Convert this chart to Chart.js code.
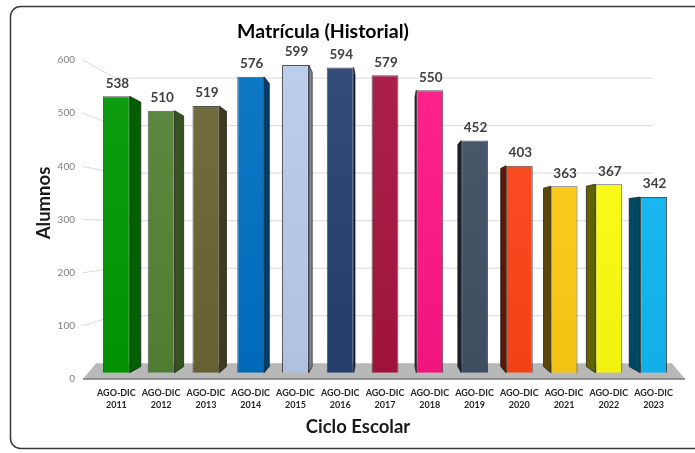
<!DOCTYPE html>
<html lang="es">
<head>
<meta charset="utf-8">
<title>Matrícula (Historial)</title>
<script src="https://cdn.jsdelivr.net/npm/chart.js@4.4.1/dist/chart.umd.min.js"></script>
<style>
  html, body { margin: 0; padding: 0; background: #fff; }
  #grafica { display: block; }
</style>
</head>
<body>
<canvas id="grafica" width="695" height="453"></canvas>
<script>
// datos
const ciclos = ['2011', '2012', '2013', '2014', '2015', '2016', '2017', '2018', '2019', '2020', '2021', '2022', '2023'];
const alumnos = [538, 510, 519, 576, 599, 594, 579, 550, 452, 403, 363, 367, 342];
const coloresFrente = ['#009800', '#548235', '#6a6434', '#0070c2', '#b8cbea', '#263f70', '#a5143f', '#ff1585', '#405064', '#ff4418', '#ffcc14', '#ffff10', '#10b8f4'];
const coloresLado = ['#005f00', '#36521f', '#403b1c', '#003e70', '#7d8aa0', '#141f3a', '#6a0a26', '#8a0048', '#1a212b', '#5e1600', '#5c4606', '#626200', '#004862'];
const marcasY = [0, 100, 200, 300, 400, 500, 600];

const etiquetas = ciclos.map(a => ['AGO-DIC', a]);
const FUENTE = 'Lato, "Open Sans", sans-serif';

// aclara (f>0) u oscurece (f<0) un color
function tono(hex, f) {
  const n = parseInt(hex.slice(1), 16);
  const m = c => f >= 0 ? Math.round(c + (255 - c) * f) : Math.round(c * (1 + f));
  return 'rgb(' + m(n >> 16) + ',' + m((n >> 8) & 255) + ',' + m(n & 255) + ')';
}

function degradado(c) {
  const col = coloresFrente[c.dataIndex];
  const area = c.chart.chartArea;
  if (!area) return col;
  const g = c.chart.ctx.createLinearGradient(0, area.top, 0, area.bottom);
  g.addColorStop(0, tono(col, 0.06));
  g.addColorStop(1, tono(col, -0.05));
  return g;
}

// efecto 3D: paredes, piso y caras laterales
const tresD = {
  id: 'tresD',
  beforeDatasetsDraw(chart) {
    const { ctx, chartArea: a, scales } = chart;
    const eje = scales.yEje;
    const vx = (a.left + a.right) / 2;
    const vy = a.top + 0.535 * (a.bottom - a.top);
    const S = 0.894;
    const fx0 = a.left - 11, fx1 = a.right + 9;
    const pared = (x, y) => [vx + (x - vx) * S, vy + (y - vy) * S];

    ctx.save();
    // lineas de division
    ctx.lineWidth = 1;
    ctx.strokeStyle = '#d9d9d9';
    marcasY.forEach(v => {
      if (v === 0) return;
      const yf = eje.getPixelForValue(v);
      const [bx0, by] = pared(fx0, yf);
      const [bx1] = pared(fx1, yf);
      ctx.beginPath();
      ctx.moveTo(fx0, yf);
      ctx.lineTo(bx0, by);
      ctx.lineTo(bx1, by);
      ctx.stroke();
    });

    // piso
    const yf0 = eje.getPixelForValue(0);
    const yb0 = pared(fx0, yf0)[1];
    ctx.fillStyle = '#b8b8b8';
    ctx.beginPath();
    ctx.moveTo(fx0, yf0);
    ctx.lineTo(fx1, yf0);
    ctx.lineTo(fx1 - 13, yb0);
    ctx.lineTo(a.left + 2, yb0);
    ctx.closePath();
    ctx.fill();
    ctx.strokeStyle = '#7a7a7a';
    ctx.lineWidth = 1.5;
    ctx.beginPath();
    ctx.moveTo(fx0, yf0);
    ctx.lineTo(fx1, yf0);
    ctx.stroke();

    // caras laterales
    const K = 0.043;
    const atras = (x, y) => [x + (vx - x) * K, y + (vy - y) * K];
    chart.getDatasetMeta(0).data.forEach((bar, i) => {
      const mitad = bar.width / 2;
      let xe;
      if (bar.x + mitad < vx) xe = bar.x + mitad;
      else if (bar.x - mitad > vx) xe = bar.x - mitad;
      else return;
      const [xt, yt] = atras(xe, bar.y);
      const yb = atras(xe, bar.base)[1];
      ctx.fillStyle = coloresLado[i];
      ctx.beginPath();
      ctx.moveTo(xe, bar.y);
      ctx.lineTo(xt, yt);
      ctx.lineTo(xt, yb);
      ctx.lineTo(xe, bar.base);
      ctx.closePath();
      ctx.fill();
      ctx.strokeStyle = 'rgba(30,30,30,0.75)';
      ctx.lineWidth = 1;
      ctx.stroke();
    });
    ctx.restore();
  },
  afterDatasetsDraw(chart) {
    const ctx = chart.ctx;
    ctx.save();
    ctx.font = 'bold 13.5px ' + FUENTE;
    ctx.fillStyle = '#404040';
    ctx.textAlign = 'center';
    ctx.textBaseline = 'middle';
    chart.getDatasetMeta(0).data.forEach((bar, i) => {
      ctx.fillText(String(alumnos[i]), bar.x + 1, bar.y - 13);
    });
    ctx.restore();
  },
  afterDraw(chart) {
    const ctx = chart.ctx;
    ctx.save();
    // marco redondeado
    ctx.strokeStyle = '#3a3a3a';
    ctx.lineWidth = 1.5;
    ctx.beginPath();
    if (ctx.roundRect) ctx.roundRect(10.5, 6.5, 700, 442, 10);
    else ctx.rect(10.5, 6.5, 700, 442);
    ctx.stroke();

    ctx.fillStyle = '#000';
    ctx.textAlign = 'center';
    ctx.textBaseline = 'middle';
    ctx.font = 'bold 19.5px ' + FUENTE;
    ctx.fillText('Matrícula (Historial)', 323, 32);
    ctx.fillStyle = '#1a1a1a';
    ctx.font = 'bold 18.5px ' + FUENTE;
    ctx.fillText('Ciclo Escolar', 358, 427);
    ctx.translate(44, 203);
    ctx.rotate(-Math.PI / 2);
    ctx.fillText('Alumnos', 0, 0);
    ctx.restore();
  }
};

new Chart(document.getElementById('grafica'), {
  type: 'bar',
  data: {
    labels: etiquetas,
    datasets: [{
      label: 'Alumnos',
      data: alumnos,
      yAxisID: 'y',
      backgroundColor: degradado,
      borderColor: 'rgba(40,40,40,0.8)',
      borderWidth: 1,
      categoryPercentage: 1,
      barPercentage: 0.6
    }]
  },
  options: {
    responsive: false,
    animation: false,
    layout: { padding: { top: 60, right: 19, left: 0, bottom: 0 } },
    plugins: {
      legend: { display: false },
      tooltip: { enabled: false }
    },
    scales: {
      x: {
        grid: { display: false, drawTicks: false },
        border: { display: false },
        ticks: {
          color: '#262626',
          font: { family: FUENTE, size: 9, weight: 'bold', lineHeight: 1.35 },
          padding: 8,
          maxRotation: 0,
          autoSkip: false
        },
        afterFit: s => { s.height = 74; }
      },
      y: { display: false, min: -12.27, max: 608.77 },
      yEje: {
        position: 'left',
        min: 0,
        max: 600,
        ticks: { stepSize: 100, color: '#7f7f7f', font: { family: FUENTE, size: 10 }, padding: 19 },
        grid: { display: false, drawTicks: false },
        border: { display: false },
        afterFit: s => { s.width = 94; }
      }
    }
  },
  plugins: [tresD]
});
</script>
</body>
</html>
